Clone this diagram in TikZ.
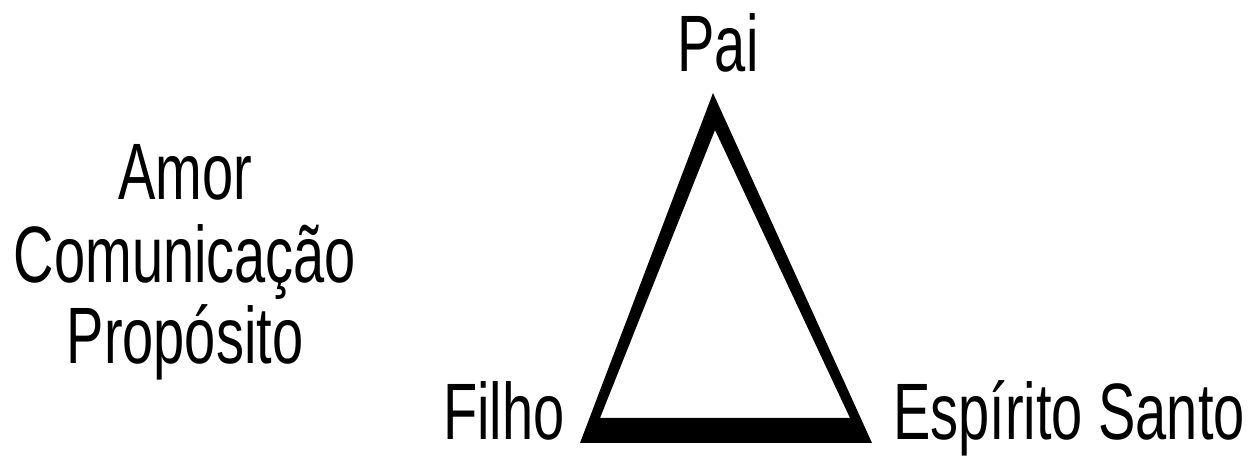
\documentclass[tikz,border=0pt]{standalone}
\usepackage{fontspec}
\setmainfont{Liberation Sans}[FakeStretch=0.7]
\usetikzlibrary{positioning}

\begin{document}
\begin{tikzpicture}[
    x=1pt, y=1pt,
    rotulo/.style={anchor=base, inner sep=0pt, font=\fontsize{80}{67}\selectfont},
]
\useasboundingbox (0,0) rectangle (1255,457);

% vertices of the triangle
\coordinate (topo) at (713,364);
\coordinate (esq) at (580,14);
\coordinate (dir) at (872,14);
\coordinate (topoin) at (715,327);
\coordinate (esqin) at (600,39);
\coordinate (dirin) at (850,39);

\fill [black, even odd rule] (esq) -- (topo) -- (dir) -- cycle
  (esqin) -- (topoin) -- (dirin) -- cycle;

\node [rotulo] (pai) at (718,385) {Pai};
\node [rotulo] (filho) at (504,17) {Filho};
\node [rotulo] (espirito) at (1069,17) {Espírito Santo};

% list on the left
\node [rotulo] (amor) at (185,257) {Amor};
\node [rotulo] (comunicacao) at (185,174) {Comunicação};
\node [rotulo] (proposito) at (185,93) {Propósito};

\end{tikzpicture}
\end{document}
